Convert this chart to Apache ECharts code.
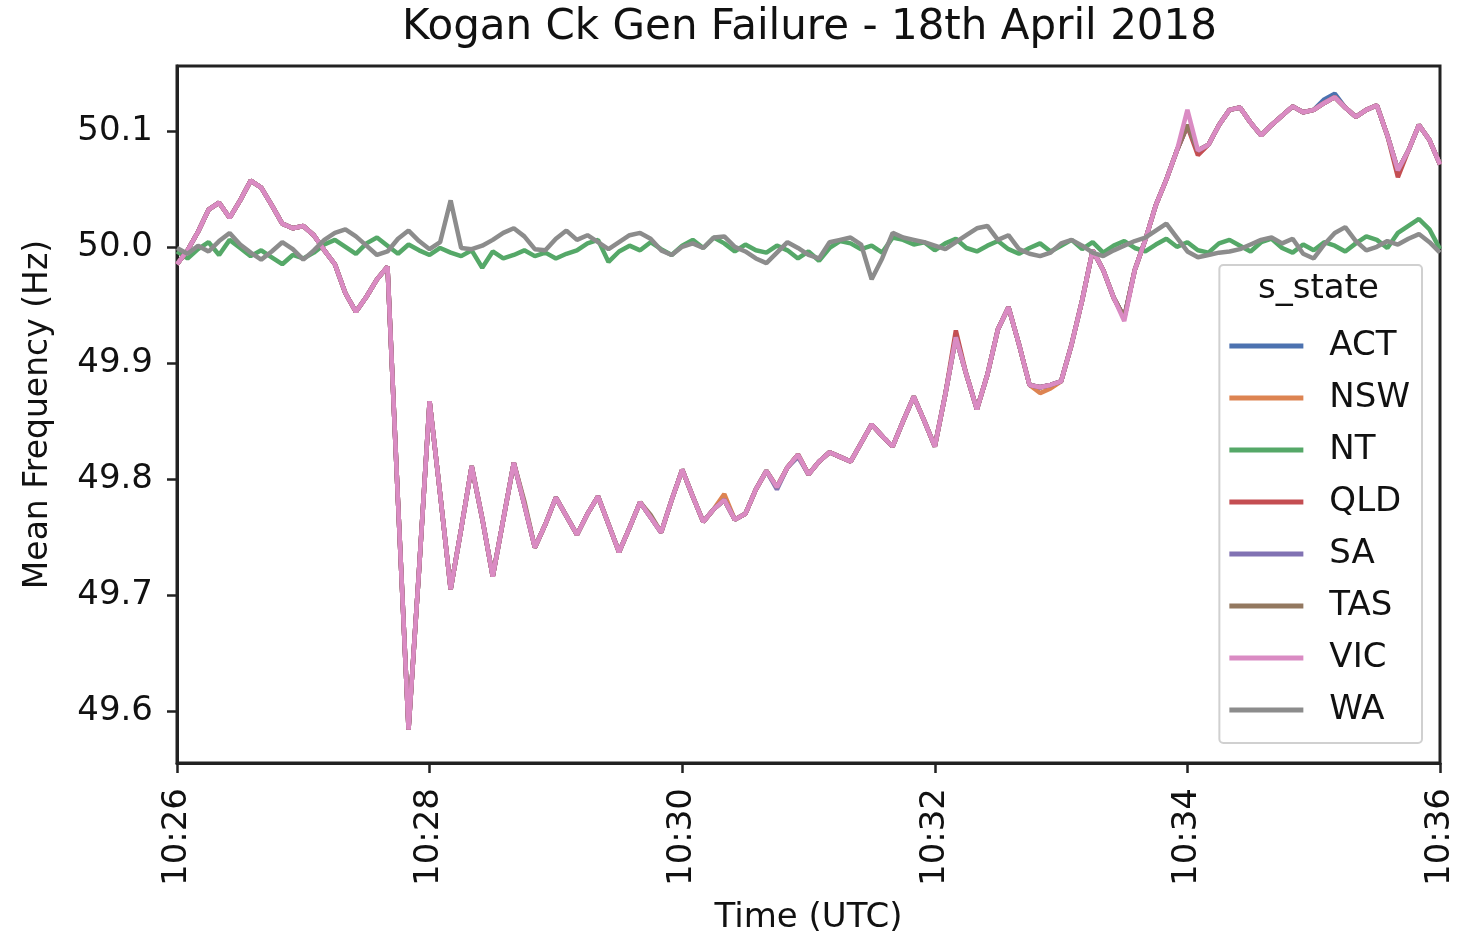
<!DOCTYPE html>
<html>
<head>
<meta charset="utf-8">
<title>Kogan Ck Gen Failure - 18th April 2018</title>
<script src="https://cdn.jsdelivr.net/npm/echarts@6/dist/echarts.min.js"></script>
<style>
  html, body { margin: 0; padding: 0; background: #fff; }
  #chart { width: 1458px; height: 940px; }
</style>
</head>
<body>
<div id="chart"></div>
<script>
// samples every 5 s from 10:26:00 to 10:36:00
const stepSec = 5
const tickLabels = ['10:26', '10:28', '10:30', '10:32', '10:34', '10:36']
const yTicks = [49.6, 49.7, 49.8, 49.9, 50.0, 50.1]

// mainland trace (ACT, NSW, QLD, SA, TAS, VIC sit on top of each other)
const mainland = [
  49.985, 49.997, 50.013, 50.032, 50.038, 50.025, 50.040, 50.057, 50.051, 50.036,
  50.020, 50.016, 50.018, 50.010, 49.997, 49.985, 49.960, 49.944, 49.957, 49.972,
  49.983, 49.780, 49.584, 49.722, 49.867, 49.787, 49.705, 49.757, 49.811, 49.766,
  49.716, 49.765, 49.814, 49.778, 49.741, 49.761, 49.784, 49.768, 49.752, 49.770,
  49.785, 49.761, 49.737, 49.758, 49.780, 49.767, 49.754, 49.782, 49.808, 49.785,
  49.763, 49.774, 49.782, 49.765, 49.770, 49.791, 49.807, 49.793, 49.810, 49.821,
  49.804, 49.815, 49.823, 49.819, 49.815, 49.831, 49.847, 49.837, 49.828, 49.850,
  49.871, 49.850, 49.828, 49.873, 49.922, 49.890, 49.860, 49.890, 49.929, 49.948,
  49.916, 49.881, 49.879, 49.881, 49.884, 49.916, 49.954, 49.997, 49.980, 49.956,
  49.939, 49.980, 50.006, 50.036, 50.058, 50.083, 50.105, 50.083, 50.088, 50.105,
  50.118, 50.120, 50.107, 50.096, 50.105, 50.113, 50.121, 50.116, 50.118, 50.124,
  50.129, 50.120, 50.112, 50.118, 50.122, 50.096, 50.066, 50.083, 50.105, 50.092,
  50.071
]

// small deviations from the mainland trace, by sample index
const actDiff = { 109: 50.127, 110: 50.132 }
const nswDiff = { 52: 49.787, 82: 49.874, 83: 49.878 }
const qldDiff = { 74: 49.928, 97: 50.079, 116: 50.060, 96: 50.104 }
const saDiff = { 57: 49.791, 59: 49.819 }
const tasDiff = { 33: 49.781, 45: 49.769 }
const vicDiff = { 96: 50.118, 90: 49.936 }

const ntValues = [
  49.996, 49.990, 49.998, 50.004, 49.993, 50.006, 49.999, 49.992, 49.997, 49.991,
  49.985, 49.993, 49.990, 49.995, 50.002, 50.006, 50.000, 49.994, 50.003, 50.008,
  50.001, 49.994, 50.002, 49.997, 49.993, 49.999, 49.995, 49.992, 49.997, 49.982,
  49.996, 49.990, 49.993, 49.997, 49.992, 49.995, 49.990, 49.994, 49.997, 50.003,
  50.006, 49.987, 49.996, 50.001, 49.997, 50.004, 49.998, 49.993, 50.001, 50.006,
  49.999, 50.008, 50.003, 49.996, 50.002, 49.997, 49.995, 50.001, 49.997, 49.990,
  49.996, 49.988, 49.999, 50.005, 50.003, 49.998, 50.001, 49.995, 50.008, 50.006,
  50.002, 50.004, 49.997, 50.003, 50.007, 49.999, 49.996, 50.001, 50.005, 49.998,
  49.994, 49.999, 50.003, 49.996, 50.001, 50.006, 49.998, 50.004, 49.995, 50.001,
  50.005, 49.999, 49.996, 50.002, 50.007, 50.000, 50.004, 49.997, 49.995, 50.003,
  50.006, 50.001, 49.996, 50.004, 50.007, 49.999, 49.995, 50.002, 49.997, 50.004,
  50.001, 49.996, 50.003, 50.009, 50.006, 49.999, 50.012, 50.018, 50.024, 50.015,
  49.998
]

const waValues = [
  49.999, 49.994, 50.001, 49.996, 50.005, 50.012, 50.002, 49.995, 49.989, 49.996,
  50.004, 49.998, 49.989, 49.997, 50.006, 50.012, 50.015, 50.009, 50.001, 49.993,
  49.996, 50.007, 50.014, 50.005, 49.998, 50.004, 50.040, 49.999, 49.998, 50.001,
  50.006, 50.012, 50.016, 50.009, 49.998, 49.997, 50.007, 50.014, 50.006, 50.010,
  50.004, 49.998, 50.004, 50.010, 50.012, 50.007, 49.997, 49.993, 50.000, 50.003,
  49.999, 50.008, 50.009, 50.000, 49.996, 49.990, 49.986, 49.995, 50.004, 49.999,
  49.993, 49.990, 50.004, 50.006, 50.008, 50.002, 49.972, 49.990, 50.012, 50.008,
  50.006, 50.004, 50.001, 49.998, 50.004, 50.010, 50.016, 50.018, 50.006, 50.010,
  49.998, 49.994, 49.992, 49.995, 50.003, 50.006, 50.001, 49.995, 49.992, 49.997,
  50.001, 50.005, 50.008, 50.014, 50.020, 50.008, 49.996, 49.991, 49.993, 49.995,
  49.996, 49.998, 50.002, 50.006, 50.008, 50.003, 50.007, 49.994, 49.990, 50.002,
  50.012, 50.017, 50.005, 49.997, 50.000, 50.005, 50.002, 50.007, 50.011, 50.004,
  49.995
]

const states = ['ACT', 'NSW', 'NT', 'QLD', 'SA', 'TAS', 'VIC', 'WA']
const colors = ['#4c72b0', '#dd8452', '#55a868', '#c44e52', '#8172b3', '#937860', '#da8bc3', '#8c8c8c']

const withDiff = (diff) => mainland.map((v, i) => (diff[i] !== undefined ? diff[i] : v))

const stateValues = {
  ACT: withDiff(actDiff),
  NSW: withDiff(nswDiff),
  NT: ntValues,
  QLD: withDiff(qldDiff),
  SA: withDiff(saDiff),
  TAS: withDiff(tasDiff),
  VIC: withDiff(vicDiff),
  WA: waValues
}

const font = 'DejaVu Sans'
const ink = '#111'

const chart = echarts.init(document.getElementById('chart'), null, { renderer: 'canvas' })

chart.setOption({
  animation: false,
  backgroundColor: '#fff',
  color: colors,
  textStyle: { fontFamily: font, color: ink },
  title: {
    text: 'Kogan Ck Gen Failure - 18th April 2018',
    left: 397,
    top: 2,
    textStyle: { fontFamily: font, fontSize: 42, fontWeight: 'normal', color: ink }
  },
  grid: {
    left: 177,
    right: 18,
    top: 66,
    bottom: 175,
    show: true,
    borderColor: '#222',
    borderWidth: 3
  },
  legend: {
    orient: 'vertical',
    right: 36,
    top: 265,
    padding: [64, 12, 16, 10],
    itemWidth: 74,
    itemHeight: 5,
    itemGap: 18,
    icon: 'rect',
    borderColor: '#d0d0d0',
    borderWidth: 2,
    borderRadius: 4,
    backgroundColor: 'rgba(255,255,255,0.85)',
    textStyle: { fontFamily: font, fontSize: 34, color: ink, lineHeight: 34, padding: [0, 0, 0, 21] },
    data: states
  },
  graphic: [{
    type: 'text',
    left: 1258,
    top: 272,
    z: 100,
    style: { text: 's_state', fontFamily: font, fontSize: 34, fill: ink }
  }],
  xAxis: {
    type: 'value',
    min: 0,
    max: 600,
    interval: 120,
    name: 'Time (UTC)',
    nameLocation: 'middle',
    nameGap: 138,
    nameTextStyle: { fontFamily: font, fontSize: 34, color: ink },
    axisLine: { show: true, lineStyle: { color: '#222', width: 3 } },
    axisTick: { show: true, length: 10, lineStyle: { color: '#222', width: 2.5 } },
    axisLabel: {
      rotate: 90,
      margin: 25,
      fontFamily: font,
      fontSize: 34,
      color: ink,
      formatter: (v) => tickLabels[Math.round(v / 120)]
    },
    splitLine: { show: false }
  },
  yAxis: {
    type: 'value',
    min: 49.5553,
    max: 50.1558,
    name: 'Mean Frequency (Hz)',
    nameLocation: 'middle',
    nameGap: 122,
    nameTextStyle: { fontFamily: font, fontSize: 33, color: ink },
    axisLine: { show: true, lineStyle: { color: '#222', width: 3 } },
    axisTick: { show: true, length: 10, lineStyle: { color: '#222', width: 2.5 }, customValues: yTicks },
    axisLabel: {
      margin: 24,
      fontFamily: font,
      fontSize: 34,
      color: ink,
      customValues: yTicks,
      formatter: (v) => v.toFixed(1)
    },
    splitLine: { show: false }
  },
  series: states.map((s, k) => ({
    name: s,
    type: 'line',
    symbol: 'none',
    color: colors[k],
    lineStyle: { width: 4.5, color: colors[k] },
    data: stateValues[s].map((v, i) => [i * stepSec, v])
  }))
})
</script>
</body>
</html>
